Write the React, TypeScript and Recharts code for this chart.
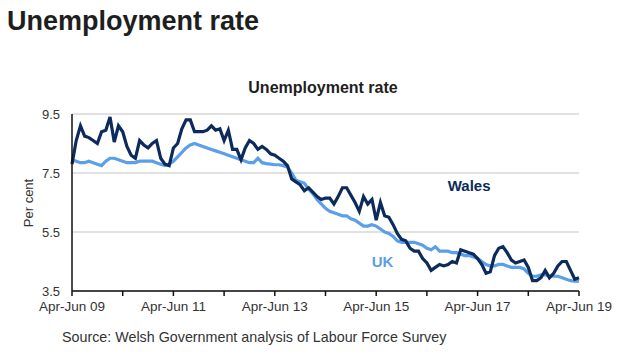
import React from "react";
import {
  CartesianGrid,
  LineChart,
  Line,
  ReferenceDot,
  XAxis,
  YAxis
} from "recharts";

// rolling quarters, Apr-Jun 09 .. Apr-Jun 19
const quarterNames = [
  "Apr-Jun", "May-Jul", "Jun-Aug", "Jul-Sep", "Aug-Oct", "Sep-Nov",
  "Oct-Dec", "Nov-Jan", "Dec-Feb", "Jan-Mar", "Feb-Apr", "Mar-May"
];

const wales = [
  7.8, 8.6, 9.1, 8.75, 8.7, 8.6, 8.5, 8.9, 8.95, 9.4, 8.55, 9.1,
  8.9, 8.4, 8.1, 8.0, 8.6, 8.45, 8.35, 8.5, 8.6, 8.0, 7.8, 7.75,
  8.35, 8.5, 9.0, 9.3, 9.3, 8.9, 8.9, 8.9, 8.95, 9.1, 8.95, 9.0,
  8.6, 8.95, 8.3, 8.3, 7.95, 8.35, 8.6, 8.5, 8.3, 8.4, 8.3, 8.15,
  8.1, 8.0, 7.9, 7.75, 7.3, 7.2, 7.1, 6.9, 7.0, 6.85, 6.7, 6.6,
  6.65, 6.65, 6.45, 6.7, 7.0, 7.0, 6.75, 6.5, 6.2, 6.7, 6.45, 6.6,
  5.9, 6.5, 6.05, 6.0, 5.75, 5.45, 5.25, 5.2, 4.95, 4.85, 4.85, 4.6,
  4.45, 4.2, 4.3, 4.4, 4.35, 4.4, 4.5, 4.45, 4.9, 4.85, 4.8, 4.75,
  4.6, 4.4, 4.1, 4.15, 4.7, 4.95, 5.0, 4.8, 4.55, 4.45, 4.5, 4.55,
  4.3, 3.85, 3.85, 3.95, 4.2, 3.95, 4.1, 4.35, 4.5, 4.5, 4.2, 3.9,
  3.95
];

const uk = [
  7.95, 7.9, 7.85, 7.85, 7.9, 7.85, 7.8, 7.75, 7.9, 8.0, 8.0, 7.95,
  7.9, 7.85, 7.85, 7.85, 7.9, 7.9, 7.9, 7.9, 7.85, 7.8, 7.75, 7.8,
  7.9, 8.05, 8.2, 8.35, 8.45, 8.5, 8.45, 8.4, 8.35, 8.3, 8.25, 8.2,
  8.15, 8.1, 8.05, 8.0, 7.95, 7.9, 7.85, 7.85, 8.0, 7.85, 7.82, 7.8,
  7.78, 7.78, 7.75, 7.7, 7.5, 7.25, 7.2, 7.15, 6.95, 6.8, 6.6, 6.45,
  6.3, 6.2, 6.15, 6.1, 6.05, 6.05, 5.95, 5.9, 5.8, 5.7, 5.7, 5.75,
  5.7, 5.6, 5.5, 5.45, 5.35, 5.2, 5.15, 5.15, 5.15, 5.15, 5.1, 5.05,
  4.95, 4.9, 5.0, 4.85, 4.85, 4.85, 4.8, 4.8, 4.75, 4.7, 4.7, 4.65,
  4.6, 4.5, 4.4, 4.35, 4.35, 4.4, 4.4, 4.35, 4.3, 4.3, 4.3, 4.25,
  4.1, 4.0, 4.0, 4.05, 4.05, 4.0, 4.0, 4.0, 3.95, 3.9, 3.85, 3.83,
  3.83
];

const xTicks = [0, 12, 24, 36, 48, 60, 72, 84, 96, 108, 120];
const xLabelEvery = 24;
const yTicks = [3.5, 5.5, 7.5, 9.5];

const periods = wales.map((_, i) => {
  const yy = 9 + Math.floor((i + 3) / 12);
  return `${quarterNames[i % 12]} ${String(yy).padStart(2, "0")}`;
});

const data = wales.map((w, i) => ({
  idx: i,
  period: periods[i],
  wales: w,
  uk: uk[i]
}));

const FONT = '"Liberation Sans", Arial, sans-serif';
const NAVY = "#0c2b5c";
const LIGHT = "#5b9fe8";

export default function App() {
  return (
    <div
      style={{
        position: "absolute",
        left: 0,
        top: 0,
        width: 638,
        height: 358,
        background: "#fff",
        fontFamily: FONT,
        overflow: "hidden"
      }}
    >
      <div
        style={{
          position: "absolute",
          left: 7,
          top: 6,
          fontSize: 27,
          fontWeight: 700,
          color: "#1e1e1e"
        }}
      >
        Unemployment rate
      </div>
      <div
        style={{
          position: "absolute",
          left: 0,
          width: 646,
          top: 79,
          textAlign: "center",
          fontSize: 16,
          fontWeight: 700,
          color: "#1e1e1e"
        }}
      >
        Unemployment rate
      </div>
      <div
        style={{
          position: "absolute",
          left: 28,
          top: 203,
          transform: "translate(-50%, -50%) rotate(-90deg)",
          fontSize: 13,
          color: "#333",
          whiteSpace: "nowrap"
        }}
      >
        Per cent
      </div>
      <div
        style={{
          position: "absolute",
          left: 62,
          top: 329,
          fontSize: 14.3,
          color: "#333"
        }}
      >
        Source: Welsh Government analysis of Labour Force Survey
      </div>
      <div style={{ position: "absolute", left: 0, top: 0 }}>
        <LineChart
          width={638}
          height={358}
          data={data}
          margin={{ top: 114, right: 59, bottom: 37, left: 32 }}
        >
          <CartesianGrid vertical={false} stroke="#c4c4c4" strokeWidth={1.2} />
          <XAxis
            dataKey="idx"
            type="number"
            domain={[0, 120]}
            ticks={xTicks}
            interval={0}
            height={30}
            tickSize={5}
            tickMargin={5}
            stroke="#111"
            strokeWidth={1.5}
            tickFormatter={(v: number) => (v % xLabelEvery === 0 ? periods[v] : "")}
            tick={{ fill: "#333", fontSize: 13.5, fontFamily: FONT }}
          />
          <YAxis
            type="number"
            domain={[3.5, 9.5]}
            ticks={yTicks}
            width={40}
            tickLine={false}
            tickMargin={6}
            stroke="#111"
            strokeWidth={1.5}
            tickFormatter={(v: number) => v.toFixed(1)}
            tick={{ fill: "#333", fontSize: 13, fontFamily: FONT }}
          />
          <Line
            dataKey="uk"
            name="UK"
            type="linear"
            stroke={LIGHT}
            strokeWidth={3.2}
            dot={false}
            isAnimationActive={false}
          />
          <Line
            dataKey="wales"
            name="Wales"
            type="linear"
            stroke={NAVY}
            strokeWidth={3.2}
            dot={false}
            isAnimationActive={false}
          />
          <ReferenceDot
            x={94}
            y={7.07}
            r={0}
            fill="none"
            stroke="none"
            label={{
              value: "Wales",
              position: "center",
              fill: NAVY,
              fontSize: 15,
              fontWeight: 700,
              fontFamily: FONT
            }}
          />
          <ReferenceDot
            x={73.5}
            y={4.49}
            r={0}
            fill="none"
            stroke="none"
            label={{
              value: "UK",
              position: "center",
              fill: LIGHT,
              fontSize: 15,
              fontWeight: 700,
              fontFamily: FONT
            }}
          />
        </LineChart>
      </div>
    </div>
  );
}
